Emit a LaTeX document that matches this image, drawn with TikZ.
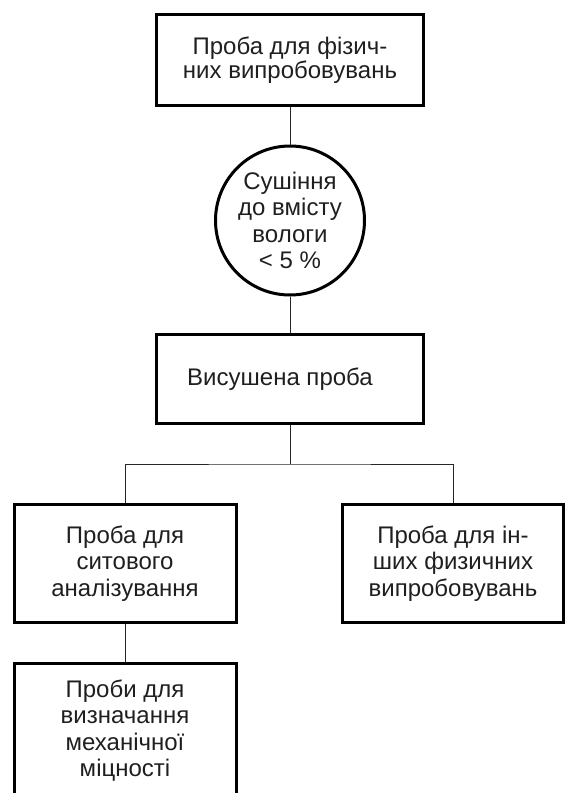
\documentclass[tikz,border=0pt]{standalone}
\usepackage{fontspec}
\setmainfont{Liberation Sans}
\newcommand{\boxfont}{\fontsize{24}{26.5}\selectfont}
\newcommand{\topfont}{\fontsize{24}{24}\selectfont}
\begin{document}
\begin{tikzpicture}[x=1pt,y=-1pt,
  stepbox/.style={draw=black, line width=3pt, rectangle, inner sep=0pt,
    align=center, font=\boxfont, text=black!88},
  dryer/.style={draw=black, line width=3pt, circle, inner sep=0pt,
    align=center, font=\boxfont, text=black!88, minimum size=149pt},
  link/.style={draw=black!85, line width=1pt}]
\useasboundingbox (0,0) rectangle (565,793);
\clip (0,0) rectangle (565,793);

% boxes and the drying step
\node[stepbox, minimum width=267pt, minimum height=91pt, font=\topfont]
  (sample) at (290,60) {Проба для фізич-\\них випробовувань};
\node[dryer] (dry) at (290,220.5) {Сушіння\\до вмісту\\вологи\\< 5 \%};
\node[stepbox, minimum width=267pt, minimum height=89pt, align=none]
  (dried) at (290,379) {Висушена проба\kern20pt};
\node[stepbox, minimum width=222pt, minimum height=118pt]
  (sieve) at (125,563.5) {Проба для\\ситового\\аналізування};
\node[stepbox, minimum width=221pt, minimum height=118pt]
  (other) at (453,563.5) {Проба для ін-\\ших физичних\\випробовувань};
\node[stepbox, minimum width=222pt, minimum height=134pt]
  (mech) at (125,730.5) {Проби для\\визначання\\механічної\\міцності};

% connectors
\coordinate (fork) at (290,464);
\draw[link] (sample.south) -- (dry.north);
\draw[link] (dry.south) -- (dried.north);
\draw[link] (dried.south) -- (fork);
\draw[link] (sieve.north) |- (fork) -| (other.north);
\draw[link] (sieve.south) -- (mech.north);
\end{tikzpicture}
\end{document}
